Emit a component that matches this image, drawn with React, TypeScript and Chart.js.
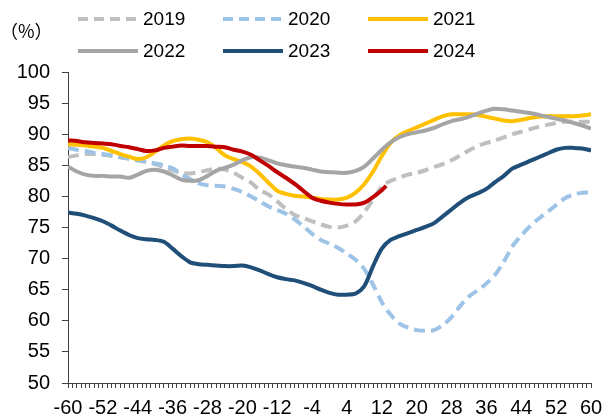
import React, { useEffect, useRef } from "react";
import { Chart, registerables } from "chart.js";

Chart.register(...registerables);

// x positions (weeks relative to the holiday), shared by every series
const X = [
  -60, -58, -56, -54, -52, -50, -48, -46, -44, -42, -40, -38, -36, -34, -32, -30,
  -28, -26, -24, -22, -20, -18, -16, -14, -12, -10, -8, -6, -4, -2, 0, 2,
  4, 6, 8, 10, 12, 14, 16, 18, 20, 22, 24, 26, 28, 30, 32, 34,
  36, 38, 40, 42, 44, 46, 48, 50, 52, 54, 56, 58, 60,
];

const Y2019 = [
  86.3, 86.6, 86.8, 86.8, 86.7, 86.5, 86.3, 86.0, 85.8, 85.5, 85.2, 84.7, 84.2, 83.8, 83.7, 83.9,
  84.2, 84.5, 84.3, 83.8, 83.0, 82.2, 81.0, 80.3, 79.2, 78.0, 77.0, 76.5, 76.0, 75.5, 75.1, 75.0,
  75.3, 76.0, 77.5, 79.5, 81.6, 82.5, 83.0, 83.5, 83.8, 84.2, 84.7, 85.2, 85.8, 86.6, 87.4, 88.1,
  88.6, 89.0, 89.5, 90.0, 90.4, 90.8, 91.2, 91.5, 91.8, 92.0, 92.0, 92.0, 92.0,
];

const Y2020 = [
  87.8, 87.5, 87.3, 87.0, 86.8, 86.6, 86.3, 86.1, 85.8, 85.6, 85.3, 85.0, 84.5, 83.6, 82.8, 82.1,
  81.8, 81.7, 81.6, 81.2, 80.7, 80.0, 79.2, 78.4, 77.8, 77.2, 76.3, 75.2, 74.0, 73.0, 72.4, 71.7,
  70.8, 69.8, 68.3, 65.8, 63.0, 61.0, 59.6, 58.9, 58.5, 58.4, 58.5, 59.3, 60.6, 62.4, 63.9, 64.9,
  66.0, 67.4, 69.5, 72.0, 73.7, 75.2, 76.4, 77.5, 78.6, 79.7, 80.3, 80.6, 80.6,
];

const Y2021 = [
  88.4, 88.3, 88.2, 88.0, 87.8, 87.3, 86.8, 86.4, 86.0, 86.3, 87.2, 88.2, 88.9, 89.2, 89.3, 89.1,
  88.7, 87.8, 86.6, 86.0, 85.5, 84.8, 83.6, 82.2, 80.9, 80.4, 80.1, 80.0, 79.8, 79.6, 79.5, 79.5,
  79.8, 80.6, 82.0, 84.0, 86.5, 88.6, 89.8, 90.5, 91.1, 91.7, 92.3, 92.9, 93.2, 93.2, 93.2, 93.1,
  92.8, 92.5, 92.2, 92.1, 92.3, 92.6, 92.8, 92.9, 92.9, 92.9, 92.9, 93.0, 93.2,
];

const Y2022 = [
  84.8, 84.0, 83.5, 83.3, 83.3, 83.2, 83.2, 83.0, 83.5, 84.1, 84.3, 84.0, 83.4, 82.7, 82.5, 82.6,
  83.3, 84.1, 84.6, 85.1, 85.8, 86.3, 86.2, 85.8, 85.3, 85.0, 84.8, 84.6, 84.3, 84.0, 83.9, 83.8,
  83.8, 84.1, 84.8, 86.1, 87.5, 88.7, 89.5, 90.0, 90.3, 90.6, 91.0, 91.6, 92.1, 92.4, 92.8, 93.3,
  93.8, 94.1, 94.0, 93.8, 93.6, 93.4, 93.1, 92.8, 92.5, 92.2, 91.8, 91.4, 90.9,
];

const Y2023 = [
  77.4, 77.2, 76.9, 76.5, 76.0, 75.3, 74.5, 73.8, 73.3, 73.1, 73.0, 72.7, 71.6, 70.4, 69.4, 69.1,
  69.0, 68.9, 68.8, 68.8, 68.9, 68.6, 68.1, 67.5, 67.0, 66.7, 66.5, 66.1, 65.6, 65.0, 64.5, 64.2,
  64.2, 64.4, 65.6, 68.8, 71.6, 73.0, 73.6, 74.1, 74.6, 75.1, 75.7, 76.8, 77.9, 79.0, 79.9, 80.5,
  81.2, 82.3, 83.3, 84.5, 85.1, 85.7, 86.3, 86.9, 87.5, 87.8, 87.8, 87.7, 87.4,
];

// 2024 has data only up to week 13
const X2024 = [
  -60, -58, -56, -54, -52, -50, -48, -46, -44, -42, -40, -38, -36, -34, -32, -30,
  -28, -26, -24, -22, -20, -18, -16, -14, -12, -10, -8, -6, -4, -2, 0, 2,
  4, 6, 8, 10, 12, 13,
];
const Y2024 = [
  89.0, 88.9, 88.7, 88.6, 88.5, 88.4, 88.1, 87.9, 87.6, 87.3, 87.4, 87.8, 88.0, 88.2, 88.1, 88.1,
  88.1, 88.0, 87.9, 87.5, 87.2, 86.7, 85.8, 84.9, 83.9, 83.0, 82.0, 80.9, 79.8, 79.3, 79.0, 78.8,
  78.7, 78.7, 79.0, 79.9, 81.0, 81.7,
];

const SERIES_NAMES = ["2019", "2020", "2021", "2022", "2023", "2024"];
const SERIES_X = [X, X, X, X, X, X2024];
const SERIES_VALUES = [Y2019, Y2020, Y2021, Y2022, Y2023, Y2024];
const SERIES_COLORS = ["#BFBFBF", "#9DC3E6", "#FFC000", "#A5A5A5", "#1F4E79", "#C00000"];
const SERIES_DASHED = [true, true, false, false, false, false];

const X_TICK_LABELS = [-60, -52, -44, -36, -28, -20, -12, -4, 4, 12, 20, 28, 36, 44, 52, 60];
const Y_MIN = 50;
const Y_MAX = 100;
const Y_STEP = 5;
const UNIT_LABEL = "（%）";

const FONT = "'Liberation Sans', Arial, sans-serif";
const DASH = [11, 6];
const AXIS_COLOR = "#404040";

export default function App() {
  const canvasRef = useRef<HTMLCanvasElement | null>(null);

  useEffect(() => {
    const canvas = canvasRef.current;
    if (!canvas) return;
    const chart = new Chart(canvas, {
      type: "line",
      data: {
        datasets: SERIES_NAMES.map((name, i) => ({
          label: name,
          data: SERIES_VALUES[i].map((v, j) => ({ x: SERIES_X[i][j], y: v })),
          borderColor: SERIES_COLORS[i],
          backgroundColor: SERIES_COLORS[i],
          borderWidth: 4,
          borderDash: SERIES_DASHED[i] ? DASH : [],
          borderJoinStyle: "round" as const,
          pointRadius: 0,
          pointHoverRadius: 0,
          tension: 0.3,
          fill: false,
          order: SERIES_NAMES.length - 1 - i,
        })),
      },
      options: {
        animation: false,
        responsive: false,
        devicePixelRatio: 1,
        layout: { padding: { top: 72, right: 21, left: 0, bottom: 0 } },
        plugins: {
          legend: { display: false },
          tooltip: { enabled: false },
        },
        scales: {
          x: {
            type: "linear",
            min: -60,
            max: 60,
            afterFit: (scale: any) => {
              scale.height = 36;
            },
            grid: {
              display: true,
              drawOnChartArea: false,
              drawTicks: true,
              tickLength: 5,
              color: AXIS_COLOR,
              lineWidth: 1,
            },
            border: { display: true, color: AXIS_COLOR, width: 1 },
            ticks: {
              stepSize: 1,
              autoSkip: false,
              maxRotation: 0,
              minRotation: 0,
              padding: 8,
              color: "#000",
              font: { family: FONT, size: 20 },
              callback: (v: any) => (X_TICK_LABELS.includes(Number(v)) ? String(v) : ""),
            },
          },
          y: {
            min: Y_MIN,
            max: Y_MAX,
            afterFit: (scale: any) => {
              scale.width = 68;
            },
            grid: {
              display: true,
              drawOnChartArea: false,
              drawTicks: true,
              tickLength: 6,
              color: AXIS_COLOR,
              lineWidth: 1,
            },
            border: { display: true, color: AXIS_COLOR, width: 1 },
            ticks: {
              stepSize: Y_STEP,
              padding: 12,
              color: "#000",
              font: { family: FONT, size: 20 },
            },
          },
        },
      },
    });
    return () => chart.destroy();
  }, []);

  return (
    <div
      style={{
        position: "fixed",
        left: 0,
        top: 0,
        width: 612,
        height: 419,
        background: "#fff",
        overflow: "hidden",
        fontFamily: FONT,
      }}
    >
      <canvas
        ref={canvasRef}
        width={612}
        height={419}
        style={{ position: "absolute", left: 0, top: 0, width: 612, height: 419, display: "block" }}
      />
      <div
        style={{
          position: "absolute",
          left: 0,
          top: 19,
          fontSize: 18,
          lineHeight: "22px",
          color: "#000",
          fontFamily: "'Noto Sans CJK SC', 'Noto Sans CJK JP', sans-serif",
          whiteSpace: "nowrap",
        }}
      >
        {UNIT_LABEL}
      </div>
      {SERIES_NAMES.map((name, i) => {
        const row = Math.floor(i / 3);
        const col = i % 3;
        const cy = 19 + row * 32;
        const lx = 78 + col * 145;
        const color = SERIES_COLORS[i];
        const bg = SERIES_DASHED[i]
          ? `repeating-linear-gradient(90deg, ${color} 0px, ${color} 10px, transparent 10px, transparent 16px)`
          : color;
        return (
          <React.Fragment key={name}>
            <div
              style={{
                position: "absolute",
                left: lx,
                top: cy - 2,
                width: 60,
                height: 4,
                background: bg,
              }}
            />
            <div
              style={{
                position: "absolute",
                left: lx + 65,
                top: cy - 12,
                height: 24,
                lineHeight: "24px",
                fontSize: 19,
                color: "#000",
                whiteSpace: "nowrap",
              }}
            >
              {name}
            </div>
          </React.Fragment>
        );
      })}
    </div>
  );
}
